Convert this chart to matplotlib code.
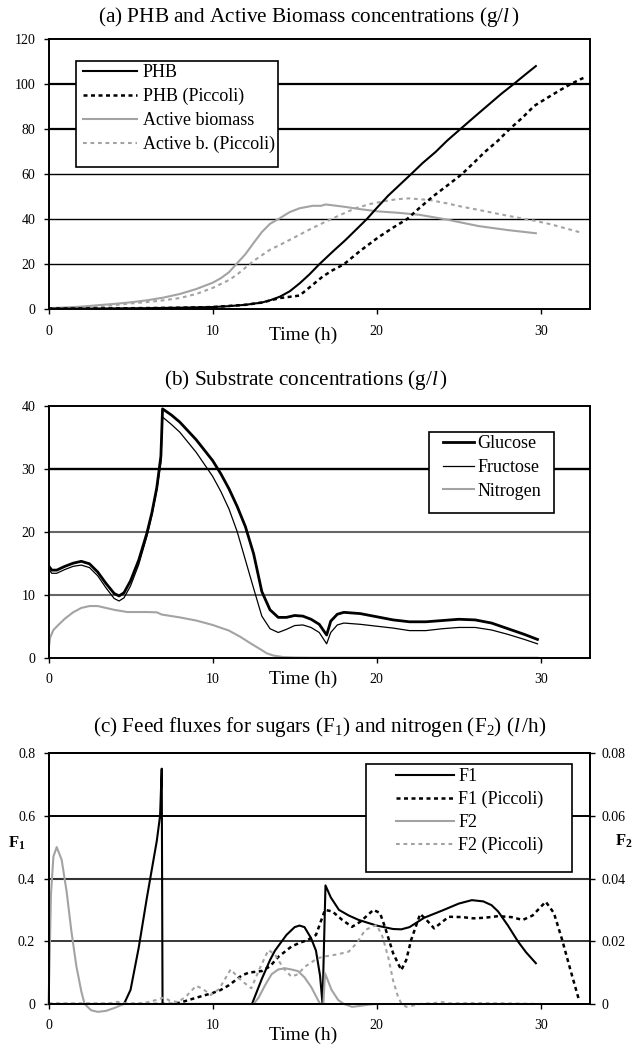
import matplotlib
matplotlib.use('Agg')
import matplotlib.pyplot as plt
from matplotlib.patches import Rectangle

plt.rcParams['font.family'] = ['Liberation Serif', 'DejaVu Serif']
plt.rcParams['mathtext.fontset'] = 'custom'
plt.rcParams['mathtext.rm'] = 'Liberation Serif'
plt.rcParams['mathtext.it'] = 'Liberation Serif:italic'
plt.rcParams['mathtext.bf'] = 'Liberation Serif:bold'

# ---- data ----
x_ticks = [0, 10, 20, 30]

# (a) PHB and active biomass (g/l)
phb_t = [0, 2, 4, 6, 8, 10, 11, 12, 13, 13.5, 14.1, 14.7, 15.3, 15.9, 16.5, 17.3, 18.1, 18.8, 19.4,
         20.0, 20.7, 21.4, 22.1, 22.8, 23.6, 24.3, 25.1, 26.0, 26.8, 27.6, 28.4, 29.0, 29.7]
phb_v = [0.3, 0.3, 0.4, 0.5, 0.7, 1.0, 1.4, 2.0, 3.0, 4.0, 5.6, 8.0, 11.5, 15.5, 20.0, 25.5, 30.8,
         35.8, 40.1, 45.0, 50.5, 55.3, 60.1, 65.0, 70.0, 75.0, 80.1, 85.8, 90.8, 95.8, 100.4, 104.0, 108.1]
phbp_t = [0, 4, 8, 10, 12, 13, 14.1, 15.3, 15.7, 16.2, 16.7, 17.3, 18.0, 19.0, 20.1, 21.0, 21.85, 22.6,
          23.4, 24.3, 25.2, 25.9, 26.6, 27.4, 28.1, 28.9, 29.6, 30.4, 31.2, 31.8, 32.4, 32.6]
phbp_v = [0.3, 0.4, 0.7, 1.0, 2.0, 3.0, 5.0, 6.1, 8.5, 11.5, 14.5, 17.3, 20.0, 26.0, 32.0, 36.3, 40.1,
          45.0, 50.0, 55.0, 60.1, 65.0, 70.0, 75.0, 80.1, 85.3, 90.4, 94.0, 97.5, 100.0, 102.2, 102.8]
ab_t = [0, 1, 2, 3, 4, 5, 6, 7, 8, 9, 10, 10.5, 11, 11.5, 12, 12.5, 13, 13.5, 14.1, 14.7, 15.3, 16.1,
        16.6, 16.9, 18, 19, 20.1, 21.3, 22.6, 24.2, 26.2, 28, 29.7]
ab_v = [0.5, 0.8, 1.2, 1.8, 2.4, 3.1, 4.0, 5.2, 6.8, 9.0, 11.8, 13.8, 16.5, 20.5, 24.5, 29.5, 34.3,
        38.0, 40.5, 43.2, 44.9, 46.0, 46.0, 46.6, 45.6, 44.5, 43.5, 42.9, 42.0, 40.0, 37.0, 35.2, 33.8]
abp_t = [0, 2, 4, 5, 6, 7, 8, 9, 10, 11, 11.5, 12, 12.5, 13, 13.5, 14.1, 15, 16, 16.9, 17.8, 18.7,
         19.6, 20.5, 21.2, 21.95, 23.2, 24.2, 25.2, 26.2, 27.2, 28.4, 29.6, 30.6, 31.5, 32.4]
abp_v = [0.3, 0.8, 1.8, 2.6, 3.2, 4.0, 5.0, 6.8, 9.5, 13.0, 15.5, 18.5, 21.5, 24.0, 26.5, 28.6, 32.0,
         35.8, 39.0, 42.0, 44.9, 46.8, 48.1, 48.9, 49.3, 48.6, 47.2, 45.6, 44.2, 42.7, 41.0, 39.4, 37.8,
         36.0, 34.2]

# (b) substrates (g/l)
sub_t = [0, 0.2, 0.5, 1.0, 1.5, 2.0, 2.5, 3.0, 3.5, 4.0, 4.3, 4.6, 5.0, 5.5, 6.0, 6.3, 6.6, 6.85, 6.95,
         7.5, 8.0, 9.0, 10.0, 10.5, 11.0, 11.5, 12.0, 12.5, 13.0, 13.5, 14.0, 14.5, 15.0, 15.5, 16.0,
         16.5, 16.95, 17.2, 17.6, 18.0, 19.0, 20.0, 21.0, 22.0, 23.0, 24.0, 25.0, 26.0, 27.0, 28.0, 29.0,
         29.8]
glucose = [14.6, 13.9, 13.9, 14.5, 15.0, 15.3, 14.9, 13.6, 11.8, 10.2, 9.8, 10.3, 12.2, 15.5, 19.8,
           23.0, 27.0, 32.0, 39.5, 38.5, 37.4, 34.6, 31.3, 29.2, 26.8, 24.0, 20.8, 16.5, 10.5, 7.6, 6.4,
           6.4, 6.7, 6.6, 6.1, 5.3, 3.6, 5.8, 6.9, 7.2, 7.0, 6.5, 6.0, 5.7, 5.7, 5.9, 6.1, 6.0, 5.5,
           4.6, 3.7, 2.9]
fructose = [14.1, 13.4, 13.4, 14.0, 14.5, 14.7, 14.3, 13.0, 11.1, 9.4, 9.0, 9.5, 11.4, 14.8, 19.3,
            22.6, 26.6, 31.0, 38.2, 37.0, 35.8, 32.6, 28.8, 26.4, 23.6, 20.0, 15.5, 11.0, 6.6, 4.6, 4.0,
            4.5, 5.1, 5.2, 4.8, 4.0, 2.2, 4.0, 5.2, 5.5, 5.3, 5.0, 4.7, 4.3, 4.3, 4.6, 4.8, 4.8, 4.4,
            3.7, 2.9, 2.2]
nit_t = [0, 0.1, 0.3, 0.6, 1.0, 1.5, 2.0, 2.5, 3.0, 3.5, 4.0, 4.8, 6.0, 6.6, 6.9, 8.0, 9.0, 10.0, 11.0,
         11.7, 12.3, 13.0, 13.3, 13.7, 14.3, 15.0, 16.0, 29.8]
nitrogen = [1.2, 3.2, 4.4, 5.2, 6.2, 7.2, 7.9, 8.2, 8.2, 7.9, 7.6, 7.25, 7.25, 7.2, 6.85, 6.4, 5.9,
            5.2, 4.3, 3.3, 2.3, 1.2, 0.7, 0.35, 0.1, 0.03, 0.0, 0.0]

# (c) feed fluxes, F1 on left axis, F2 on right axis (l/h)
f1_t = [0, 4.6, 5.0, 5.5, 6.0, 6.3, 6.6, 6.8, 6.9, 6.95, 12.4, 12.7, 13.0, 13.5, 13.8, 14.5, 15.0,
        15.3, 15.6, 16.0, 16.3, 16.55, 16.7, 16.88, 17.2, 17.7, 18.3, 18.9, 20.0, 21.0, 21.5, 22.0, 22.9,
        24.0, 25.0, 25.8, 26.5, 27.0, 27.4, 28.0, 28.6, 29.1, 29.7]
f1_v = [0, 0, 0.045, 0.18, 0.34, 0.43, 0.52, 0.6, 0.75, 0.0, 0.0, 0.04, 0.08, 0.14, 0.17, 0.22, 0.245,
        0.25, 0.245, 0.21, 0.17, 0.09, 0.0, 0.378, 0.34, 0.30, 0.282, 0.268, 0.25, 0.239, 0.238, 0.245,
        0.275, 0.298, 0.32, 0.331, 0.327, 0.315, 0.295, 0.25, 0.2, 0.165, 0.13]
f1p_t = [0, 7.5, 8.0, 9.0, 10.0, 10.5, 11.0, 11.75, 12.2, 13.0, 13.5, 14.0, 14.8, 15.3, 15.8, 16.3,
         16.85, 17.3, 17.9, 18.5, 19.0, 19.8, 20.2, 20.5, 21.0, 21.5, 21.8, 22.1, 22.65, 23.0, 23.5, 24.0,
         24.4, 25.2, 25.9, 26.6, 27.4, 28.2, 28.9, 29.5, 30.3, 30.8, 31.3, 31.8, 32.3]
f1p_v = [0, 0, 0.004, 0.02, 0.035, 0.045, 0.06, 0.09, 0.1, 0.105, 0.12, 0.15, 0.183, 0.195, 0.204,
         0.22, 0.3, 0.295, 0.268, 0.246, 0.262, 0.3, 0.29, 0.246, 0.162, 0.108, 0.14, 0.204, 0.287, 0.27,
         0.241, 0.262, 0.278, 0.277, 0.273, 0.275, 0.28, 0.277, 0.268, 0.282, 0.326, 0.29, 0.205, 0.11,
         0.018]
f2_t = [0, 0.05, 0.15, 0.3, 0.5, 0.8, 1.1, 1.4, 1.7, 2.0, 2.2, 2.6, 3.0, 3.5, 4.0, 4.6, 12.5, 12.8, 13.2,
        13.6, 14.0, 14.4, 14.8, 15.2, 15.6, 16.0, 16.3, 16.55, 16.75, 16.85, 17.25, 17.65, 18.0, 18.5,
        19.0, 19.5, 20.0, 29.8]
f2_v = [0, 0.01, 0.035, 0.047, 0.05, 0.046, 0.036, 0.023, 0.012, 0.004, 0.0, -0.002, -0.0025, -0.0022,
        -0.0013, 0, 0, 0.002, 0.006, 0.0095, 0.011, 0.0114, 0.011, 0.0105, 0.0085, 0.0055, 0.0025, 0.0,
        0.0, 0.0098, 0.0045, 0.0013, 0.0, -0.0009, -0.0006, -0.0002, 0, 0]
f2p_t = [0, 3.5, 4.2, 4.7, 5.2, 6.0, 6.5, 7.05, 7.4, 7.9, 8.4, 9.0, 9.4, 9.9, 10.4, 11.1, 11.75, 12.36,
         12.8, 13.4, 13.8, 14.3, 14.8, 15.2, 15.6, 16.4, 16.9, 17.6, 18.3, 18.8, 19.3, 20.0, 20.35,
         20.7, 21.0, 21.3, 21.5, 21.8, 22.2, 22.6, 23.5, 24.0, 24.5, 26.0, 28.0, 30.0]
f2p_v = [0, 0, 0.0007, 0.0002, 0.0, 0.0005, 0.0012, 0.0021, 0.0010, 0.0006, 0.0025, 0.0058, 0.0048,
         0.0029, 0.0048, 0.011, 0.0075, 0.005, 0.0105, 0.0172, 0.0158, 0.0115, 0.0087, 0.0095, 0.0118,
         0.0146, 0.0152, 0.0158, 0.0167, 0.0195, 0.0236, 0.0252, 0.0215, 0.015, 0.0075, 0.0023, 0.0002,
         -0.0009, -0.0005, 0.0, 0.0003, 0.0006, 0.0002, 0.0003, 0.0002, 0.0]

ya_ticks = [0, 20, 40, 60, 80, 100, 120]
yb_ticks = [0, 10, 20, 30, 40]
yc_ticks = [0, 0.2, 0.4, 0.6, 0.8]
yc_labels = ['0', '0.2', '0.4', '0.6', '0.8']
yc2_ticks = [0, 0.02, 0.04, 0.06, 0.08]
yc2_labels = ['0', '0.02', '0.04', '0.06', '0.08']

GRAY = '#a3a3a3'
W, H = 642, 1046
fig = plt.figure(figsize=(W / 100, H / 100), dpi=100)


def fx(px):
    return px / W


def fy(px):
    return 1 - px / H


L, R = 48.5, 590


def make_axes(top, bottom):
    return fig.add_axes([fx(L), fy(bottom), fx(R - L), (bottom - top) / H])


def style(ax, yticks, ylabels, grid, time_dy):
    ax.set_xlim(0, 33)
    ax.set_ylim(yticks[0], yticks[-1])
    ax.set_xticks(x_ticks)
    ax.set_xticklabels([str(t) for t in x_ticks])
    ax.set_yticks(yticks)
    ax.set_yticklabels(ylabels)
    ax.tick_params(axis='x', direction='out', length=3.6, width=1, pad=7.5, labelsize=10)
    ax.tick_params(axis='y', direction='out', length=3.6, width=1, pad=6, labelsize=10)
    for s in ax.spines.values():
        s.set_linewidth(1.4)
    for y, (c, lw) in zip(yticks[1:-1], grid):
        ax.axhline(y, color=c, lw=lw, zorder=1)
    ax.annotate('Time (h)', xy=(15.5, 0), xycoords=('data', 'axes fraction'),
                xytext=(0, -time_dy), textcoords='offset pixels',
                ha='center', va='center', fontsize=14)


def legend_box(x0, y0, x1, y1):
    fig.add_artist(Rectangle((fx(x0), fy(y1)), fx(x1 - x0), (y1 - y0) / H,
                             transform=fig.transFigure, facecolor='white',
                             edgecolor='black', lw=1.2, zorder=5))


# ---- (a) ----
ax1 = make_axes(39.3, 309.3)
l1, = ax1.plot(phb_t, phb_v, color='black', lw=1.5, zorder=3)
l2, = ax1.plot(phbp_t, phbp_v, color='black', lw=1.8, dashes=(1.6, 1.4), zorder=3)
l3, = ax1.plot(ab_t, ab_v, color=GRAY, lw=1.5, zorder=2)
l4, = ax1.plot(abp_t, abp_v, color=GRAY, lw=1.5, dashes=(1.8, 1.8), zorder=2)
style(ax1, ya_ticks, [str(v) for v in ya_ticks],
      [('black', 1.0), ('black', 1.0), ('black', 1.0), ('black', 1.6), ('black', 1.6)], 26)
fig.text(fx(309), fy(17.3), '(a) PHB and Active Biomass concentrations (g/$l\\,$)',
         ha='center', va='center', fontsize=15.3)
legend_box(76, 61, 278, 167)
lg = fig.legend([l1, l2, l3, l4], ['PHB', 'PHB (Piccoli)', 'Active biomass', 'Active b. (Piccoli)'],
                loc='upper left', bbox_to_anchor=(fx(83), fy(64)), frameon=False, fontsize=13,
                handlelength=3.0, handletextpad=0.3, labelspacing=0.38, borderpad=0, borderaxespad=0)
lg.set_zorder(6)

# ---- (b) ----
ax2 = make_axes(405.7, 657.7)
g1, = ax2.plot(sub_t, glucose, color='black', lw=2.0, zorder=3)
g2, = ax2.plot(sub_t, fructose, color='black', lw=0.9, zorder=3)
g3, = ax2.plot(nit_t, nitrogen, color=GRAY, lw=1.5, zorder=2)
style(ax2, yb_ticks, [str(v) for v in yb_ticks],
      [('#666666', 1.5), ('#666666', 1.5), ('black', 1.7)], 22)
fig.text(fx(306), fy(380), '(b) Substrate concentrations (g/$l\\,$)',
         ha='center', va='center', fontsize=15.3)
legend_box(429, 432, 554, 513)
lg = fig.legend([g1, g2, g3], ['Glucose', 'Fructose', 'Nitrogen'],
                loc='upper left', bbox_to_anchor=(fx(443), fy(435)), frameon=False, fontsize=13,
                handlelength=1.7, handletextpad=0.2, labelspacing=0.38, borderpad=0, borderaxespad=0)
lg.set_zorder(6)

# ---- (c) ----
ax3 = make_axes(753, 1004)
ax3r = ax3.twinx()
h1, = ax3.plot(f1_t, f1_v, color='black', lw=1.5, zorder=3)
h2, = ax3.plot(f1p_t, f1p_v, color='black', lw=1.8, dashes=(1.6, 1.4), zorder=3)
h3, = ax3r.plot(f2_t, f2_v, color=GRAY, lw=1.5, clip_on=False)
h4, = ax3r.plot(f2p_t, f2p_v, color=GRAY, lw=1.5, dashes=(1.8, 1.8), clip_on=False)
style(ax3, yc_ticks, yc_labels,
      [('black', 1.1), ('#333333', 1.5), ('black', 1.4)], 31)
ax3r.set_ylim(yc2_ticks[0], yc2_ticks[-1])
ax3r.set_yticks(yc2_ticks)
ax3r.set_yticklabels(yc2_labels)
ax3r.tick_params(axis='y', direction='out', length=3.6, width=1, pad=4.5, labelsize=10)
for s in ax3r.spines.values():
    s.set_linewidth(1.4)
fig.text(fx(320), fy(727), '(c) Feed fluxes for sugars (F$_1$) and nitrogen (F$_2$) ($l\\,$/h)',
         ha='center', va='center', fontsize=15.3)
fig.text(fx(17), fy(843), '$\\mathbf{F}_{\\mathbf{1}}$', ha='center', va='center', fontsize=12)
fig.text(fx(624), fy(841), '$\\mathbf{F}_{\\mathbf{2}}$', ha='center', va='center', fontsize=12)
legend_box(366, 764, 572, 872)
lg = fig.legend([h1, h2, h3, h4], ['F1', 'F1 (Piccoli)', 'F2', 'F2 (Piccoli)'],
                loc='upper left', bbox_to_anchor=(fx(396), fy(768)), frameon=False, fontsize=13,
                handlelength=3.2, handletextpad=0.25, labelspacing=0.32, borderpad=0, borderaxespad=0)
lg.set_zorder(6)

fig.savefig('out.png', dpi=100)
